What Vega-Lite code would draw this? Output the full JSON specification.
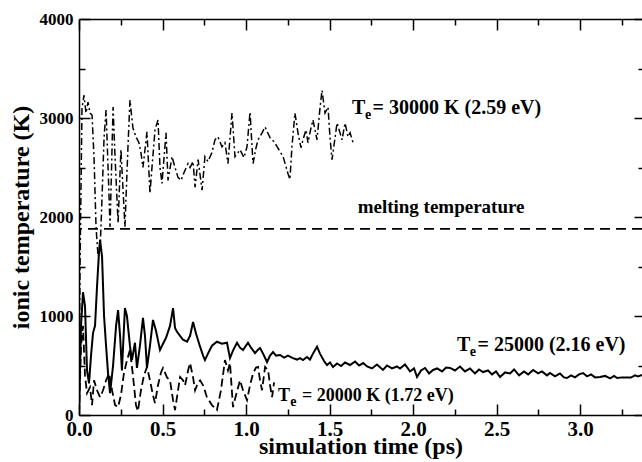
{
  "$schema": "https://vega.github.io/schema/vega-lite/v6.json",
  "width": 563,
  "height": 396,
  "autosize": "none",
  "padding": {"left": 79, "top": 19, "right": 0, "bottom": 47},
  "background": "white",
  "config": {
    "view": {"stroke": null},
    "font": "Liberation Serif, Times New Roman, Times, serif",
    "axis": {"grid": false, "tickColor": "black", "domainColor": "black", "labelColor": "black", "titleColor": "black", "labelFont": "Liberation Serif, Times New Roman, Times, serif", "titleFont": "Liberation Serif, Times New Roman, Times, serif", "labelFontWeight": "bold", "titleFontWeight": "bold", "tickWidth": 1.5, "domainWidth": 1.5},
    "text": {"font": "Liberation Serif, Times New Roman, Times, serif", "fontWeight": "bold", "color": "black"}
  },
  "datasets": {
    "ts": [
      {"s":"25","t":0.000,"T":0},{"s":"25","t":0.012,"T":900},{"s":"25","t":0.024,"T":1240},{"s":"25","t":0.036,"T":1100},{"s":"25","t":0.048,"T":450},{"s":"25","t":0.060,"T":320},{"s":"25","t":0.072,"T":600},{"s":"25","t":0.084,"T":830},{"s":"25","t":0.096,"T":900},{"s":"25","t":0.108,"T":1300},{"s":"25","t":0.120,"T":1650},{"s":"25","t":0.126,"T":1770},{"s":"25","t":0.138,"T":1600},{"s":"25","t":0.150,"T":1000},{"s":"25","t":0.162,"T":700},{"s":"25","t":0.174,"T":420},{"s":"25","t":0.186,"T":220},{"s":"25","t":0.204,"T":500},{"s":"25","t":0.222,"T":900},{"s":"25","t":0.234,"T":1060},{"s":"25","t":0.246,"T":800},{"s":"25","t":0.257,"T":450},{"s":"25","t":0.275,"T":1080},{"s":"25","t":0.287,"T":1000},{"s":"25","t":0.305,"T":700},{"s":"25","t":0.317,"T":555},{"s":"25","t":0.335,"T":730},{"s":"25","t":0.347,"T":475},{"s":"25","t":0.365,"T":700},{"s":"25","t":0.383,"T":980},{"s":"25","t":0.395,"T":800},{"s":"25","t":0.407,"T":475},{"s":"25","t":0.425,"T":700},{"s":"25","t":0.443,"T":960},{"s":"25","t":0.461,"T":850},{"s":"25","t":0.485,"T":657},{"s":"25","t":0.503,"T":720},{"s":"25","t":0.521,"T":780},{"s":"25","t":0.545,"T":900},{"s":"25","t":0.563,"T":1080},{"s":"25","t":0.575,"T":880},{"s":"25","t":0.587,"T":840},{"s":"25","t":0.605,"T":800},{"s":"25","t":0.623,"T":760},{"s":"25","t":0.647,"T":740},{"s":"25","t":0.665,"T":800},{"s":"25","t":0.683,"T":940},{"s":"25","t":0.701,"T":820},{"s":"25","t":0.725,"T":690},{"s":"25","t":0.743,"T":600},{"s":"25","t":0.754,"T":555},{"s":"25","t":0.772,"T":620},{"s":"25","t":0.796,"T":700},{"s":"25","t":0.826,"T":740},{"s":"25","t":0.856,"T":720},{"s":"25","t":0.886,"T":730},{"s":"25","t":0.904,"T":575},{"s":"25","t":0.922,"T":650},{"s":"25","t":0.946,"T":730},{"s":"25","t":0.964,"T":680},{"s":"25","t":0.982,"T":657},{"s":"25","t":1.000,"T":700},{"s":"25","t":1.012,"T":730},{"s":"25","t":1.030,"T":680},{"s":"25","t":1.054,"T":625},{"s":"25","t":1.072,"T":660},{"s":"25","t":1.084,"T":677},{"s":"25","t":1.102,"T":620},{"s":"25","t":1.126,"T":535},{"s":"25","t":1.144,"T":600},{"s":"25","t":1.162,"T":636},{"s":"25","t":1.180,"T":600},{"s":"25","t":1.204,"T":606},{"s":"25","t":1.228,"T":580},{"s":"25","t":1.251,"T":600},{"s":"25","t":1.281,"T":575},{"s":"25","t":1.305,"T":560},{"s":"25","t":1.323,"T":575},{"s":"25","t":1.341,"T":555},{"s":"25","t":1.365,"T":586},{"s":"25","t":1.383,"T":560},{"s":"25","t":1.401,"T":620},{"s":"25","t":1.425,"T":690},{"s":"25","t":1.443,"T":620},{"s":"25","t":1.467,"T":545},{"s":"25","t":1.485,"T":505},{"s":"25","t":1.503,"T":530},{"s":"25","t":1.521,"T":485},{"s":"25","t":1.545,"T":520},{"s":"25","t":1.569,"T":495},{"s":"25","t":1.593,"T":530},{"s":"25","t":1.623,"T":505},{"s":"25","t":1.653,"T":540},{"s":"25","t":1.677,"T":500},{"s":"25","t":1.701,"T":525},{"s":"25","t":1.725,"T":490},{"s":"25","t":1.754,"T":470},{"s":"25","t":1.784,"T":510},{"s":"25","t":1.820,"T":455},{"s":"25","t":1.844,"T":500},{"s":"25","t":1.874,"T":470},{"s":"25","t":1.904,"T":490},{"s":"25","t":1.922,"T":470},{"s":"25","t":1.952,"T":510},{"s":"25","t":1.982,"T":440},{"s":"25","t":2.006,"T":470},{"s":"25","t":2.024,"T":384},{"s":"25","t":2.048,"T":450},{"s":"25","t":2.072,"T":475},{"s":"25","t":2.096,"T":420},{"s":"25","t":2.120,"T":455},{"s":"25","t":2.144,"T":470},{"s":"25","t":2.174,"T":440},{"s":"25","t":2.198,"T":480},{"s":"25","t":2.222,"T":475},{"s":"25","t":2.251,"T":450},{"s":"25","t":2.281,"T":490},{"s":"25","t":2.311,"T":440},{"s":"25","t":2.341,"T":470},{"s":"25","t":2.371,"T":420},{"s":"25","t":2.395,"T":460},{"s":"25","t":2.419,"T":434},{"s":"25","t":2.449,"T":450},{"s":"25","t":2.473,"T":410},{"s":"25","t":2.497,"T":440},{"s":"25","t":2.521,"T":384},{"s":"25","t":2.551,"T":430},{"s":"25","t":2.581,"T":420},{"s":"25","t":2.605,"T":460},{"s":"25","t":2.635,"T":400},{"s":"25","t":2.665,"T":440},{"s":"25","t":2.689,"T":410},{"s":"25","t":2.719,"T":455},{"s":"25","t":2.749,"T":420},{"s":"25","t":2.772,"T":440},{"s":"25","t":2.802,"T":400},{"s":"25","t":2.820,"T":424},{"s":"25","t":2.850,"T":390},{"s":"25","t":2.880,"T":420},{"s":"25","t":2.904,"T":380},{"s":"25","t":2.922,"T":374},{"s":"25","t":2.946,"T":400},{"s":"25","t":2.970,"T":380},{"s":"25","t":2.994,"T":410},{"s":"25","t":3.018,"T":424},{"s":"25","t":3.042,"T":390},{"s":"25","t":3.066,"T":410},{"s":"25","t":3.090,"T":380},{"s":"25","t":3.120,"T":385},{"s":"25","t":3.150,"T":395},{"s":"25","t":3.180,"T":370},{"s":"25","t":3.204,"T":395},{"s":"25","t":3.222,"T":374},{"s":"25","t":3.251,"T":380},{"s":"25","t":3.281,"T":380},{"s":"25","t":3.305,"T":378},{"s":"25","t":3.329,"T":400},{"s":"25","t":3.347,"T":390},{"s":"25","t":3.371,"T":404},
      {"s":"20","t":0.000,"T":0},{"s":"20","t":0.012,"T":700},{"s":"20","t":0.024,"T":900},{"s":"20","t":0.036,"T":400},{"s":"20","t":0.048,"T":220},{"s":"20","t":0.066,"T":280},{"s":"20","t":0.078,"T":100},{"s":"20","t":0.090,"T":350},{"s":"20","t":0.108,"T":250},{"s":"20","t":0.126,"T":180},{"s":"20","t":0.144,"T":250},{"s":"20","t":0.162,"T":350},{"s":"20","t":0.180,"T":420},{"s":"20","t":0.198,"T":250},{"s":"20","t":0.216,"T":100},{"s":"20","t":0.234,"T":80},{"s":"20","t":0.251,"T":200},{"s":"20","t":0.269,"T":420},{"s":"20","t":0.287,"T":550},{"s":"20","t":0.305,"T":657},{"s":"20","t":0.323,"T":400},{"s":"20","t":0.341,"T":100},{"s":"20","t":0.353,"T":40},{"s":"20","t":0.371,"T":250},{"s":"20","t":0.389,"T":400},{"s":"20","t":0.407,"T":485},{"s":"20","t":0.425,"T":350},{"s":"20","t":0.443,"T":200},{"s":"20","t":0.455,"T":120},{"s":"20","t":0.473,"T":300},{"s":"20","t":0.491,"T":430},{"s":"20","t":0.503,"T":475},{"s":"20","t":0.527,"T":380},{"s":"20","t":0.545,"T":350},{"s":"20","t":0.563,"T":150},{"s":"20","t":0.575,"T":50},{"s":"20","t":0.593,"T":250},{"s":"20","t":0.605,"T":384},{"s":"20","t":0.623,"T":350},{"s":"20","t":0.635,"T":300},{"s":"20","t":0.653,"T":450},{"s":"20","t":0.665,"T":525},{"s":"20","t":0.683,"T":380},{"s":"20","t":0.695,"T":250},{"s":"20","t":0.713,"T":330},{"s":"20","t":0.725,"T":350},{"s":"20","t":0.743,"T":300},{"s":"20","t":0.766,"T":180},{"s":"20","t":0.796,"T":100},{"s":"20","t":0.826,"T":50},{"s":"20","t":0.850,"T":250},{"s":"20","t":0.874,"T":555},{"s":"20","t":0.892,"T":450},{"s":"20","t":0.904,"T":525},{"s":"20","t":0.922,"T":80},{"s":"20","t":0.940,"T":200},{"s":"20","t":0.964,"T":350},{"s":"20","t":0.982,"T":250},{"s":"20","t":1.006,"T":150},{"s":"20","t":1.024,"T":300},{"s":"20","t":1.042,"T":420},{"s":"20","t":1.060,"T":480},{"s":"20","t":1.072,"T":485},{"s":"20","t":1.084,"T":350},{"s":"20","t":1.096,"T":250},{"s":"20","t":1.114,"T":485},{"s":"20","t":1.132,"T":455},{"s":"20","t":1.144,"T":300},{"s":"20","t":1.156,"T":180},{"s":"20","t":1.168,"T":330},
      {"s":"30","t":0.000,"T":0},{"s":"30","t":0.006,"T":1500},{"s":"30","t":0.018,"T":3100},{"s":"30","t":0.030,"T":3230},{"s":"30","t":0.042,"T":3050},{"s":"30","t":0.054,"T":3160},{"s":"30","t":0.066,"T":3050},{"s":"30","t":0.078,"T":3030},{"s":"30","t":0.090,"T":2600},{"s":"30","t":0.102,"T":1900},{"s":"30","t":0.114,"T":1600},{"s":"30","t":0.126,"T":1650},{"s":"30","t":0.138,"T":2200},{"s":"30","t":0.150,"T":2800},{"s":"30","t":0.162,"T":3080},{"s":"30","t":0.174,"T":2500},{"s":"30","t":0.186,"T":1900},{"s":"30","t":0.204,"T":3110},{"s":"30","t":0.216,"T":2600},{"s":"30","t":0.234,"T":1940},{"s":"30","t":0.251,"T":2680},{"s":"30","t":0.263,"T":2300},{"s":"30","t":0.275,"T":1900},{"s":"30","t":0.293,"T":2700},{"s":"30","t":0.305,"T":3180},{"s":"30","t":0.323,"T":2900},{"s":"30","t":0.341,"T":2810},{"s":"30","t":0.359,"T":2750},{"s":"30","t":0.371,"T":2650},{"s":"30","t":0.383,"T":2500},{"s":"30","t":0.407,"T":2860},{"s":"30","t":0.425,"T":2240},{"s":"30","t":0.437,"T":2500},{"s":"30","t":0.455,"T":2880},{"s":"30","t":0.473,"T":2980},{"s":"30","t":0.485,"T":2500},{"s":"30","t":0.497,"T":2340},{"s":"30","t":0.521,"T":2850},{"s":"30","t":0.533,"T":2370},{"s":"30","t":0.557,"T":2610},{"s":"30","t":0.575,"T":2500},{"s":"30","t":0.593,"T":2400},{"s":"30","t":0.611,"T":2370},{"s":"30","t":0.629,"T":2450},{"s":"30","t":0.653,"T":2540},{"s":"30","t":0.665,"T":2500},{"s":"30","t":0.683,"T":2560},{"s":"30","t":0.695,"T":2300},{"s":"30","t":0.713,"T":2580},{"s":"30","t":0.737,"T":2270},{"s":"30","t":0.754,"T":2610},{"s":"30","t":0.772,"T":2560},{"s":"30","t":0.796,"T":2650},{"s":"30","t":0.814,"T":2780},{"s":"30","t":0.832,"T":2810},{"s":"30","t":0.856,"T":2710},{"s":"30","t":0.874,"T":2750},{"s":"30","t":0.892,"T":2540},{"s":"30","t":0.916,"T":3050},{"s":"30","t":0.934,"T":2610},{"s":"30","t":0.952,"T":2650},{"s":"30","t":0.964,"T":2680},{"s":"30","t":0.988,"T":2600},{"s":"30","t":1.006,"T":2710},{"s":"30","t":1.024,"T":3060},{"s":"30","t":1.042,"T":2540},{"s":"30","t":1.060,"T":2700},{"s":"30","t":1.072,"T":2780},{"s":"30","t":1.096,"T":2850},{"s":"30","t":1.114,"T":2910},{"s":"30","t":1.144,"T":2800},{"s":"30","t":1.168,"T":2760},{"s":"30","t":1.186,"T":2710},{"s":"30","t":1.222,"T":2610},{"s":"30","t":1.251,"T":2440},{"s":"30","t":1.263,"T":2380},{"s":"30","t":1.275,"T":2710},{"s":"30","t":1.293,"T":3050},{"s":"30","t":1.311,"T":2850},{"s":"30","t":1.329,"T":2700},{"s":"30","t":1.341,"T":2780},{"s":"30","t":1.359,"T":2880},{"s":"30","t":1.371,"T":2750},{"s":"30","t":1.389,"T":2900},{"s":"30","t":1.401,"T":2980},{"s":"30","t":1.425,"T":2780},{"s":"30","t":1.443,"T":3100},{"s":"30","t":1.455,"T":3280},{"s":"30","t":1.473,"T":3050},{"s":"30","t":1.491,"T":3110},{"s":"30","t":1.503,"T":2800},{"s":"30","t":1.515,"T":2580},{"s":"30","t":1.533,"T":2800},{"s":"30","t":1.545,"T":2950},{"s":"30","t":1.563,"T":2850},{"s":"30","t":1.575,"T":2780},{"s":"30","t":1.593,"T":2950},{"s":"30","t":1.611,"T":2810},{"s":"30","t":1.623,"T":2850},{"s":"30","t":1.641,"T":2750}
    ],
    "big": [
      {"x":1.635,"y":3040,"label":"T"},
      {"x":1.758,"y":3040,"label":"= 30000 K (2.59 eV)"},
      {"x":2.263,"y":650,"label":"T"},
      {"x":2.386,"y":650,"label":"= 25000 (2.16 eV)"}
    ],
    "sub": [
      {"x":1.712,"y":2985,"label":"e"},
      {"x":2.340,"y":595,"label":"e"},
      {"x":1.265,"y":90,"label":"e"}
    ],
    "mid": [
      {"x":1.192,"y":141,"label":"T"},
      {"x":1.335,"y":141,"label":"= 20000 K (1.72 eV)"}
    ],
    "melt": [
      {"x":2.168,"y":2040,"label":"melting temperature","T":1880}
    ]
  },
  "layer": [
    {
      "data": {"name": "ts"},
      "transform": [{"filter": "datum.s == '25'"}],
      "mark": {"type": "line", "color": "black", "strokeWidth": 2, "clip": true},
      "encoding": {
        "x": {"field": "t", "type": "quantitative", "scale": {"domain": [0, 3.371], "nice": false, "zero": false},
              "axis": {"orient": "bottom", "values": [0, 0.5, 1, 1.5, 2, 2.5, 3], "format": ".1f", "tickSize": -11, "labelPadding": 14, "labelFontSize": 21, "labelFlush": false, "labelOverlap": false, "domain": true, "title": "simulation time (ps)", "titleFontSize": 24, "titlePadding": -5}},
        "y": {"field": "T", "type": "quantitative", "scale": {"domain": [0, 4000], "nice": false},
              "axis": {"orient": "left", "values": [0, 1000, 2000, 3000, 4000], "format": "d", "tickSize": -11, "labelPadding": 17, "labelFontSize": 17, "labelFlush": false, "labelOverlap": false, "domain": true, "title": "ionic temperature (K)", "titleFontSize": 24, "titlePadding": 6}}
      }
    },
    {
      "data": {"name": "ts"},
      "transform": [{"filter": "datum.s == '20'"}],
      "mark": {"type": "line", "color": "black", "strokeWidth": 1.8, "strokeDash": [8, 4], "clip": true},
      "encoding": {
        "x": {"field": "t", "type": "quantitative", "axis": null},
        "y": {"field": "T", "type": "quantitative", "axis": null}
      }
    },
    {
      "data": {"name": "ts"},
      "transform": [{"filter": "datum.s == '30'"}],
      "mark": {"type": "line", "color": "black", "strokeWidth": 1.5, "strokeDash": [7, 3, 2, 3], "clip": true},
      "encoding": {
        "x": {"field": "t", "type": "quantitative", "axis": null},
        "y": {"field": "T", "type": "quantitative", "axis": null}
      }
    },
    {
      "data": {"name": "melt"},
      "mark": {"type": "rule", "color": "black", "strokeWidth": 1.8, "strokeDash": [10, 6]},
      "encoding": {
        "y": {"field": "T", "type": "quantitative",
              "axis": {"orient": "left", "values": [500, 1500, 2500, 3500], "tickSize": -6, "labels": false, "domain": false, "title": null}}
      }
    },
    {
      "data": {"name": "big"},
      "mark": {"type": "text", "fontSize": 20, "align": "left", "baseline": "alphabetic"},
      "encoding": {
        "x": {"field": "x", "type": "quantitative",
              "axis": {"orient": "bottom", "values": [0.25, 0.75, 1.25, 1.75, 2.25, 2.75, 3.25], "tickSize": -6, "labels": false, "domain": false, "title": null}},
        "y": {"field": "y", "type": "quantitative",
              "axis": {"orient": "right", "values": [0, 1000, 2000, 3000, 4000], "tickSize": -8, "labels": false, "domain": false, "title": null}},
        "text": {"field": "label"}
      }
    },
    {
      "data": {"name": "sub"},
      "mark": {"type": "text", "fontSize": 14, "align": "left", "baseline": "alphabetic"},
      "encoding": {
        "x": {"field": "x", "type": "quantitative",
              "axis": {"orient": "top", "values": [0, 0.5, 1, 1.5, 2, 2.5, 3], "tickSize": -11, "labels": false, "domain": true, "title": null}},
        "y": {"field": "y", "type": "quantitative",
              "axis": {"orient": "right", "values": [500, 1500, 2500, 3500], "tickSize": -4, "labels": false, "domain": false, "title": null}},
        "text": {"field": "label"}
      }
    },
    {
      "data": {"name": "mid"},
      "mark": {"type": "text", "fontSize": 18, "align": "left", "baseline": "alphabetic"},
      "encoding": {
        "x": {"field": "x", "type": "quantitative",
              "axis": {"orient": "top", "values": [0.25, 0.75, 1.25, 1.75, 2.25, 2.75, 3.25], "tickSize": -6, "labels": false, "domain": false, "title": null}},
        "y": {"field": "y", "type": "quantitative", "axis": null},
        "text": {"field": "label"}
      }
    },
    {
      "data": {"name": "melt"},
      "mark": {"type": "text", "fontSize": 19, "align": "center", "baseline": "alphabetic"},
      "encoding": {
        "x": {"field": "x", "type": "quantitative", "axis": null},
        "y": {"field": "y", "type": "quantitative", "axis": null},
        "text": {"field": "label"}
      }
    }
  ],
  "resolve": {"axis": {"x": "independent", "y": "independent"}}
}
